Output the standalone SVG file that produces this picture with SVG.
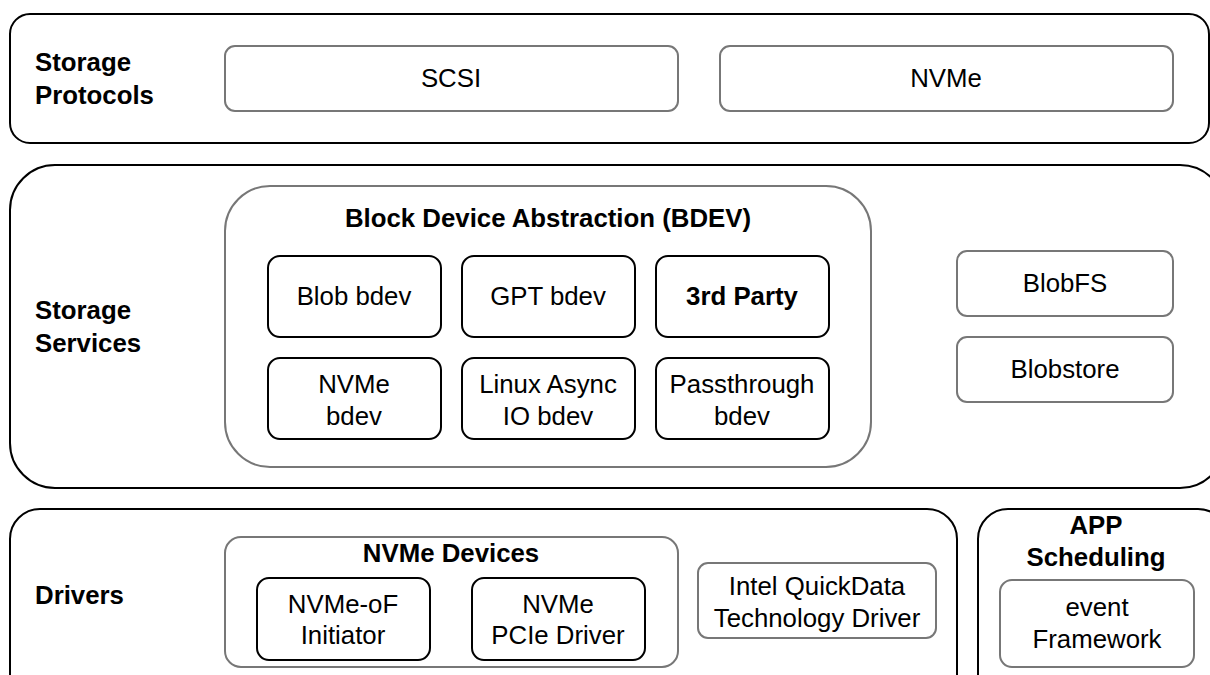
<svg xmlns="http://www.w3.org/2000/svg" width="1210" height="675" viewBox="0 0 1210 675">
<style>
.outer{fill:#fff;stroke:#000;stroke-width:2}
.gray{fill:#fff;stroke:#777;stroke-width:2}
.blk{fill:#fff;stroke:#000;stroke-width:2}
text{font-family:"Liberation Sans",Arial,sans-serif;font-size:25.8px;fill:#000;text-anchor:middle}
.b{font-weight:bold}
.lab{font-weight:bold;text-anchor:start}
</style>
<rect width="1210" height="675" fill="#fff"/>
<g id="storage-protocols">
<rect class="outer" x="10" y="14" width="1199" height="129" rx="20"/>
<text class="lab" x="35" y="71">Storage</text>
<text class="lab" x="35" y="104">Protocols</text>
</g>
<g id="scsi"><rect class="gray" x="225" y="46" width="453" height="65" rx="10"/><text x="451" y="87">SCSI</text></g>
<g id="nvme"><rect class="gray" x="720" y="46" width="453" height="65" rx="10"/><text x="946" y="87">NVMe</text></g>
<g id="storage-services">
<rect class="outer" x="10" y="165" width="1215" height="323" rx="45"/>
<text class="lab" x="35" y="319">Storage</text>
<text class="lab" x="35" y="352">Services</text>
</g>
<g id="bdev">
<rect class="gray" x="225" y="186" width="646" height="281" rx="45"/>
<text class="b" x="548" y="227">Block Device Abstraction (BDEV)</text>
</g>
<g id="blob-bdev"><rect class="blk" x="268" y="256" width="173" height="81" rx="12"/><text x="354" y="305">Blob bdev</text></g>
<g id="gpt-bdev"><rect class="blk" x="462" y="256" width="173" height="81" rx="12"/><text x="548" y="305">GPT bdev</text></g>
<g id="third-party"><rect class="blk" x="656" y="256" width="173" height="81" rx="12"/><text class="b" x="742" y="305">3rd Party</text></g>
<g id="nvme-bdev"><rect class="blk" x="268" y="358" width="173" height="81" rx="12"/><text x="354" y="393">NVMe</text><text x="354" y="425">bdev</text></g>
<g id="aio-bdev"><rect class="blk" x="462" y="358" width="173" height="81" rx="12"/><text x="548" y="393">Linux Async</text><text x="548" y="425">IO bdev</text></g>
<g id="passthru-bdev"><rect class="blk" x="656" y="358" width="173" height="81" rx="12"/><text x="742" y="393">Passthrough</text><text x="742" y="425">bdev</text></g>
<g id="blobfs"><rect class="gray" x="957" y="251" width="216" height="65" rx="10"/><text x="1065" y="292">BlobFS</text></g>
<g id="blobstore"><rect class="gray" x="957" y="337" width="216" height="65" rx="10"/><text x="1065" y="378">Blobstore</text></g>
<g id="drivers">
<rect class="outer" x="10" y="509" width="947" height="200" rx="30"/>
<text class="lab" x="35" y="604">Drivers</text>
</g>
<g id="nvme-devices">
<rect class="gray" x="225" y="537" width="453" height="130" rx="16"/>
<text class="b" x="451" y="562">NVMe Devices</text>
</g>
<g id="nvmeof"><rect class="blk" x="257" y="578" width="173" height="82" rx="12"/><text x="343" y="613">NVMe-oF</text><text x="343" y="644">Initiator</text></g>
<g id="pcie"><rect class="blk" x="472" y="578" width="173" height="82" rx="12"/><text x="558" y="613">NVMe</text><text x="558" y="644">PCIe Driver</text></g>
<g id="ioat"><rect class="gray" x="698" y="563" width="238" height="75" rx="10"/><text x="817" y="595">Intel QuickData</text><text x="817" y="627">Technology Driver</text></g>
<g id="app-scheduling">
<rect class="outer" x="978" y="509" width="250" height="200" rx="30"/>
<text class="b" x="1096" y="534">APP</text>
<text class="b" x="1096" y="566">Scheduling</text>
</g>
<g id="event"><rect class="gray" x="1000" y="580" width="194" height="87" rx="12"/><text x="1097" y="616">event</text><text x="1097" y="648">Framework</text></g>
<g id="connectors"></g>
</svg>
